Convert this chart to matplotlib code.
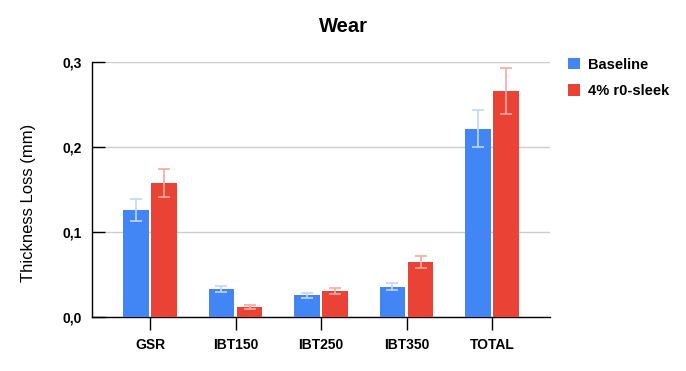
import numpy as np
from matplotlib import pyplot as plt

categories = ["GSR", "IBT150", "IBT250", "IBT350", "TOTAL"]
baseline = [0.126, 0.033, 0.026, 0.036, 0.222]
baseline_err = [0.013, 0.0035, 0.003, 0.004, 0.022]
sleek = [0.158, 0.012, 0.031, 0.065, 0.266]
sleek_err = [0.016, 0.002, 0.0035, 0.0065, 0.027]
series_names = ["Baseline", "4% r0-sleek"]

blue = "#4285F4"
red = "#EA4335"
blue_err = "#C2D6FB"
red_err = "#F5A8A2"

plt.rcParams['font.family'] = ['Liberation Sans', 'DejaVu Sans']

fig = plt.figure(figsize=(6.86, 3.71), dpi=100)
ax = fig.add_axes([0.134, 0.145, 0.668, 0.687])

x = np.arange(len(categories))
w = 0.30
off = 0.165

ax.bar(x - off, baseline, w, color=blue, label=series_names[0], zorder=3)
ax.bar(x + off, sleek, w, color=red, label=series_names[1], zorder=3)
ax.errorbar(x - off, baseline, yerr=baseline_err, fmt="none", ecolor=blue_err,
            elinewidth=1.2, capsize=4.3, capthick=1.2, zorder=4)
ax.errorbar(x + off, sleek, yerr=sleek_err, fmt="none", ecolor=red_err,
            elinewidth=1.2, capsize=4.3, capthick=1.2, zorder=4)

ax.set_xlim(-0.68, 4.68)
ax.set_ylim(0, 0.3)
ax.set_yticks([0, 0.1, 0.2, 0.3])
ax.set_yticklabels(["0,0", "0,1", "0,2", "0,3"], fontweight="bold", fontsize=10)
ax.set_xticks(x)
ax.set_xticklabels(categories, fontweight="bold", fontsize=10)

ax.yaxis.grid(True, color="#cccccc", linewidth=1, zorder=0)
ax.tick_params(axis="y", direction="in", length=9, width=1, pad=7)
ax.tick_params(axis="x", direction="out", length=9, width=1, pad=6)
for s in ["top", "right"]:
    ax.spines[s].set_visible(False)
for s in ["left", "bottom"]:
    ax.spines[s].set_color("black")
    ax.spines[s].set_linewidth(1)

ax.set_ylabel("Thickness Loss (mm)", fontsize=12)
ax.yaxis.set_label_coords(-0.121, 0.45)
fig.suptitle("Wear", fontsize=14.5, fontweight="bold", x=0.5, y=0.955)

leg = ax.legend(loc="upper left", bbox_to_anchor=(1.01, 1.07), frameon=False,
                prop={"weight": "bold", "size": 10.5}, handlelength=0.8,
                handleheight=0.8, handletextpad=0.6, labelspacing=0.85)

fig.savefig("out.png", dpi=100)
